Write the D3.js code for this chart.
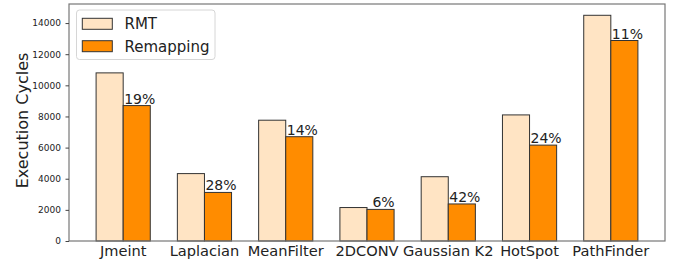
<!DOCTYPE html>
<html>
<head>
<meta charset="utf-8">
<script src="https://cdn.jsdelivr.net/npm/d3@7"></script>
<style>
  body { margin: 0; background: #fff; }
  svg { display: block; font-family: "DejaVu Sans", sans-serif; }
</style>
</head>
<body>
<svg width="678" height="266"></svg>
<script>
// данные графика
const categories = ["Jmeint", "Laplacian", "MeanFilter", "2DCONV", "Gaussian K2", "HotSpot", "PathFinder"];
const rmtValues = [10800, 4330, 7760, 2150, 4130, 8100, 14500];
const remapValues = [8700, 3120, 6700, 2030, 2380, 6160, 12880];
const savingLabels = ["19%", "28%", "14%", " 6%", "42%", "24%", "11%"];
const seriesNames = ["RMT", "Remapping"];
const yTicks = [0, 2000, 4000, 6000, 8000, 10000, 12000, 14000];

const colors = ["#ffe4c4", "#ff8c00"];
const edge = "#333";

const svg = d3.select("svg");
const plot = { left: 69, right: 665, top: 4, bottom: 241 };
const barW = 1 / 3; // ширина столбца в единицах категории

const x = d3.scaleLinear()
    .domain([-2 / 3, categories.length - 1 + 2 / 3])
    .range([plot.left, plot.right]);
const y = d3.scaleLinear()
    .domain([0, 15225])
    .range([plot.bottom, plot.top]);

// столбцы
const series = [rmtValues, remapValues];
series.forEach((vals, s) => {
    svg.append("g").selectAll("rect")
        .data(vals)
        .join("rect")
        .attr("x", (d, i) => x(i - barW + s * barW))
        .attr("y", d => y(d))
        .attr("width", x(barW) - x(0))
        .attr("height", d => y(0) - y(d))
        .attr("fill", colors[s])
        .attr("stroke", edge)
        .attr("stroke-width", 1);
});

// подписи процентов над оранжевыми столбцами
svg.append("g").selectAll("text")
    .data(savingLabels)
    .join("text")
    .attr("x", (d, i) => x(i) + 1)
    .attr("y", (d, i) => y(remapValues[i]) - 2)
    .attr("font-size", 14)
    .attr("fill", "#222")
    .style("white-space", "pre")
    .text(d => d);

// рамка
svg.append("rect")
    .attr("x", plot.left).attr("y", plot.top)
    .attr("width", plot.right - plot.left)
    .attr("height", plot.bottom - plot.top)
    .attr("fill", "none")
    .attr("stroke", "#777")
    .attr("stroke-width", 1.2);

// ось Y
const yAxis = svg.append("g")
    .attr("transform", `translate(${plot.left},0)`)
    .call(d3.axisLeft(y).tickValues(yTicks).tickSize(3.5).tickPadding(4.5).tickFormat(d3.format("d")));
yAxis.select(".domain").remove();
yAxis.selectAll("line").attr("stroke", "#444");
yAxis.selectAll("text").attr("font-size", 9).attr("font-family", "DejaVu Sans").attr("fill", "#222");

// подписи категорий
svg.append("g").selectAll("text")
    .data(categories)
    .join("text")
    .attr("x", (d, i) => x(i))
    .attr("y", 256)
    .attr("text-anchor", "middle")
    .attr("font-size", 14.6)
    .attr("fill", "#222")
    .text(d => d);

// подпись оси Y
svg.append("text")
    .attr("transform", `translate(27.5,${(plot.top + plot.bottom) / 2 - 2}) rotate(-90)`)
    .attr("text-anchor", "middle")
    .attr("font-size", 16)
    .attr("fill", "#222")
    .text("Execution Cycles");

// легенда
const legend = svg.append("g");
legend.append("rect")
    .attr("x", 76.5).attr("y", 10)
    .attr("width", 138.5).attr("height", 49.5)
    .attr("rx", 3)
    .attr("fill", "#fff")
    .attr("fill-opacity", 0.8)
    .attr("stroke", "#d6d6d6");
seriesNames.forEach((name, s) => {
    const top = 18.3 + s * 22.4;
    legend.append("rect")
        .attr("x", 82.3).attr("y", top)
        .attr("width", 30).attr("height", 11)
        .attr("fill", colors[s])
        .attr("stroke", edge);
    legend.append("text")
        .attr("x", 124.5).attr("y", top + 11)
        .attr("font-size", 15)
        .attr("fill", "#222")
        .text(name);
});
</script>
</body>
</html>
